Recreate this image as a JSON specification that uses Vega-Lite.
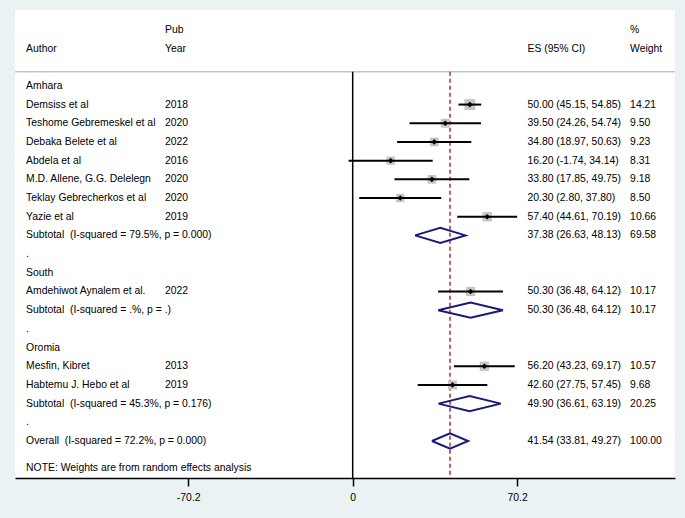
{
  "$schema": "https://vega.github.io/schema/vega-lite/v6.json",
  "width": 660,
  "height": 468,
  "autosize": {"type": "none"},
  "padding": {"left": 15, "top": 10, "right": 10, "bottom": 40},
  "background": "#eaf2f3",
  "config": {
    "view": {"fill": "white", "stroke": null},
    "font": "Liberation Sans",
    "text": {"font": "Liberation Sans", "fontSize": 10.4, "color": "black", "align": "left", "baseline": "middle"}
  },
  "datasets": {
    "table": [
      {"row": -2, "author": "", "year": "Pub", "estext": "", "wtext": "%", "kind": "header"},
      {"row": -1, "author": "Author", "year": "Year", "estext": "ES (95% CI)", "wtext": "Weight", "kind": "header"},
      {"row": 1, "author": "Amhara", "year": "", "estext": "", "wtext": "", "kind": "group"},
      {"row": 2, "author": "Demsiss et al", "year": "2018", "es": 50.00, "lo": 45.15, "hi": 54.85, "w": 14.21, "estext": "50.00 (45.15, 54.85)", "wtext": "14.21", "kind": "study"},
      {"row": 3, "author": "Teshome Gebremeskel et al", "year": "2020", "es": 39.50, "lo": 24.26, "hi": 54.74, "w": 9.50, "estext": "39.50 (24.26, 54.74)", "wtext": "9.50", "kind": "study"},
      {"row": 4, "author": "Debaka Belete et al", "year": "2022", "es": 34.80, "lo": 18.97, "hi": 50.63, "w": 9.23, "estext": "34.80 (18.97, 50.63)", "wtext": "9.23", "kind": "study"},
      {"row": 5, "author": "Abdela et al", "year": "2016", "es": 16.20, "lo": -1.74, "hi": 34.14, "w": 8.31, "estext": "16.20 (-1.74, 34.14)", "wtext": "8.31", "kind": "study"},
      {"row": 6, "author": "M.D. Allene, G.G. Delelegn", "year": "2020", "es": 33.80, "lo": 17.85, "hi": 49.75, "w": 9.18, "estext": "33.80 (17.85, 49.75)", "wtext": "9.18", "kind": "study"},
      {"row": 7, "author": "Teklay Gebrecherkos et al", "year": "2020", "es": 20.30, "lo": 2.80, "hi": 37.80, "w": 8.50, "estext": "20.30 (2.80, 37.80)", "wtext": "8.50", "kind": "study"},
      {"row": 8, "author": "Yazie et al", "year": "2019", "es": 57.40, "lo": 44.61, "hi": 70.19, "w": 10.66, "estext": "57.40 (44.61, 70.19)", "wtext": "10.66", "kind": "study"},
      {"row": 9, "author": "Subtotal\u00a0 (I-squared = 79.5%, p = 0.000)", "year": "", "es": 37.38, "lo": 26.63, "hi": 48.13, "w": 69.58, "estext": "37.38 (26.63, 48.13)", "wtext": "69.58", "kind": "pooled"},
      {"row": 10, "author": ".", "year": "", "estext": "", "wtext": "", "kind": "blank"},
      {"row": 11, "author": "South", "year": "", "estext": "", "wtext": "", "kind": "group"},
      {"row": 12, "author": "Amdehiwot Aynalem et al.", "year": "2022", "es": 50.30, "lo": 36.48, "hi": 64.12, "w": 10.17, "estext": "50.30 (36.48, 64.12)", "wtext": "10.17", "kind": "study"},
      {"row": 13, "author": "Subtotal\u00a0 (I-squared = .%, p = .)", "year": "", "es": 50.30, "lo": 36.48, "hi": 64.12, "w": 10.17, "estext": "50.30 (36.48, 64.12)", "wtext": "10.17", "kind": "pooled"},
      {"row": 14, "author": ".", "year": "", "estext": "", "wtext": "", "kind": "blank"},
      {"row": 15, "author": "Oromia", "year": "", "estext": "", "wtext": "", "kind": "group"},
      {"row": 16, "author": "Mesfin, Kibret", "year": "2013", "es": 56.20, "lo": 43.23, "hi": 69.17, "w": 10.57, "estext": "56.20 (43.23, 69.17)", "wtext": "10.57", "kind": "study"},
      {"row": 17, "author": "Habtemu J. Hebo et al", "year": "2019", "es": 42.60, "lo": 27.75, "hi": 57.45, "w": 9.68, "estext": "42.60 (27.75, 57.45)", "wtext": "9.68", "kind": "study"},
      {"row": 18, "author": "Subtotal\u00a0 (I-squared = 45.3%, p = 0.176)", "year": "", "es": 49.90, "lo": 36.61, "hi": 63.19, "w": 20.25, "estext": "49.90 (36.61, 63.19)", "wtext": "20.25", "kind": "pooled"},
      {"row": 19, "author": ".", "year": "", "estext": "", "wtext": "", "kind": "blank"},
      {"row": 20, "author": "Overall\u00a0 (I-squared = 72.2%, p = 0.000)", "year": "", "es": 41.54, "lo": 33.81, "hi": 49.27, "w": 100.00, "estext": "41.54 (33.81, 49.27)", "wtext": "100.00", "kind": "overall"},
      {"row": 21.45, "author": "NOTE: Weights are from random effects analysis", "year": "", "estext": "", "wtext": "", "kind": "note"}
    ],
    "dia": [
      {"grp": "Amhara", "ord": 0, "x": 26.63, "y": 9},
      {"grp": "Amhara", "ord": 1, "x": 37.38, "y": 8.59},
      {"grp": "Amhara", "ord": 2, "x": 48.13, "y": 9},
      {"grp": "Amhara", "ord": 3, "x": 37.38, "y": 9.41},
      {"grp": "Amhara", "ord": 4, "x": 26.63, "y": 9},
      {"grp": "South", "ord": 0, "x": 36.48, "y": 13},
      {"grp": "South", "ord": 1, "x": 50.30, "y": 12.59},
      {"grp": "South", "ord": 2, "x": 64.12, "y": 13},
      {"grp": "South", "ord": 3, "x": 50.30, "y": 13.41},
      {"grp": "South", "ord": 4, "x": 36.48, "y": 13},
      {"grp": "Oromia", "ord": 0, "x": 36.61, "y": 18},
      {"grp": "Oromia", "ord": 1, "x": 49.90, "y": 17.59},
      {"grp": "Oromia", "ord": 2, "x": 63.19, "y": 18},
      {"grp": "Oromia", "ord": 3, "x": 49.90, "y": 18.41},
      {"grp": "Oromia", "ord": 4, "x": 36.61, "y": 18},
      {"grp": "Overall", "ord": 0, "x": 33.81, "y": 20},
      {"grp": "Overall", "ord": 1, "x": 41.54, "y": 19.59},
      {"grp": "Overall", "ord": 2, "x": 49.27, "y": 20},
      {"grp": "Overall", "ord": 3, "x": 41.54, "y": 20.41},
      {"grp": "Overall", "ord": 4, "x": 33.81, "y": 20}
    ]
  },
  "layer": [
    {
      "data": {"values": [{}]},
      "mark": {"type": "rule", "color": "#c4c4c4", "strokeWidth": 1.5},
      "encoding": {
        "y": {"datum": 0.24, "type": "quantitative", "scale": {"domain": [-3.06, 21.98], "reverse": true, "nice": false, "zero": false}, "axis": null}
      }
    },
    {
      "data": {"values": [{}]},
      "mark": {"type": "rule", "color": "black", "strokeWidth": 1.5},
      "encoding": {
        "x": {"datum": 0, "type": "quantitative", "scale": {"domain": [-144.13, 137.56], "nice": false, "zero": false},
              "axis": {"values": [-70.2, 0, 70.2], "labelExpr": "datum.value == 0 ? '0' : (datum.value < 0 ? '-' : '') + format(abs(datum.value), '.1f')", "title": null, "grid": false, "domainColor": "black", "domainWidth": 1.5, "tickColor": "black", "tickWidth": 1.5, "tickSize": 8, "labelFontSize": 10.4, "labelFont": "Liberation Sans", "labelColor": "black", "labelPadding": 6, "labelFlush": false, "labelOverlap": false}},
        "y": {"datum": 0.24, "type": "quantitative", "scale": {"domain": [-3.06, 21.98], "reverse": true, "nice": false, "zero": false}, "axis": null},
        "y2": {"datum": 21.98}
      }
    },
    {
      "data": {"name": "table"},
      "transform": [{"filter": "datum.kind == 'overall'"}],
      "mark": {"type": "rule", "color": "#a3303c", "strokeWidth": 1.5, "strokeDash": [4, 3]},
      "encoding": {
        "x": {"field": "es", "type": "quantitative", "scale": {"domain": [-144.13, 137.56], "nice": false, "zero": false}, "title": null},
        "y": {"datum": 0.24, "type": "quantitative", "scale": {"domain": [-3.06, 21.98], "reverse": true, "nice": false, "zero": false}, "axis": null},
        "y2": {"datum": 21.98}
      }
    },
    {
      "data": {"name": "table"},
      "transform": [{"filter": "datum.kind == 'study'"}],
      "mark": {"type": "point", "shape": "square", "filled": true, "color": "#c6c6c6", "opacity": 1},
      "encoding": {
        "x": {"field": "es", "type": "quantitative", "scale": {"domain": [-144.13, 137.56], "nice": false, "zero": false}, "title": null},
        "y": {"field": "row", "type": "quantitative", "scale": {"domain": [-3.06, 21.98], "reverse": true, "nice": false, "zero": false}, "axis": null},
        "size": {"field": "w", "type": "quantitative", "scale": {"type": "linear", "domain": [0, 14.21], "range": [0, 118], "zero": true}, "legend": null}
      }
    },
    {
      "data": {"name": "table"},
      "transform": [{"filter": "datum.kind == 'study'"}],
      "mark": {"type": "rule", "color": "black", "strokeWidth": 2},
      "encoding": {
        "x": {"field": "lo", "type": "quantitative", "scale": {"domain": [-144.13, 137.56], "nice": false, "zero": false}, "title": null},
        "x2": {"field": "hi"},
        "y": {"field": "row", "type": "quantitative", "scale": {"domain": [-3.06, 21.98], "reverse": true, "nice": false, "zero": false}, "axis": null}
      }
    },
    {
      "data": {"name": "table"},
      "transform": [{"filter": "datum.kind == 'study'"}],
      "mark": {"type": "point", "shape": "diamond", "filled": true, "color": "black", "size": 32, "opacity": 1},
      "encoding": {
        "x": {"field": "es", "type": "quantitative", "scale": {"domain": [-144.13, 137.56], "nice": false, "zero": false}, "title": null},
        "y": {"field": "row", "type": "quantitative", "scale": {"domain": [-3.06, 21.98], "reverse": true, "nice": false, "zero": false}, "axis": null}
      }
    },
    {
      "data": {"name": "dia"},
      "mark": {"type": "line", "color": "#1a1a78", "strokeWidth": 2, "strokeJoin": "miter"},
      "encoding": {
        "x": {"field": "x", "type": "quantitative", "scale": {"domain": [-144.13, 137.56], "nice": false, "zero": false}, "title": null},
        "y": {"field": "y", "type": "quantitative", "scale": {"domain": [-3.06, 21.98], "reverse": true, "nice": false, "zero": false}, "axis": null},
        "detail": {"field": "grp"},
        "order": {"field": "ord", "type": "quantitative"}
      }
    },
    {
      "data": {"name": "table"},
      "mark": {"type": "text"},
      "encoding": {
        "x": {"datum": -139.4, "type": "quantitative", "scale": {"domain": [-144.13, 137.56], "nice": false, "zero": false}, "title": null},
        "y": {"field": "row", "type": "quantitative", "scale": {"domain": [-3.06, 21.98], "reverse": true, "nice": false, "zero": false}, "axis": null},
        "text": {"field": "author"}
      }
    },
    {
      "data": {"name": "table"},
      "mark": {"type": "text"},
      "encoding": {
        "x": {"datum": -80.1, "type": "quantitative", "scale": {"domain": [-144.13, 137.56], "nice": false, "zero": false}, "title": null},
        "y": {"field": "row", "type": "quantitative", "scale": {"domain": [-3.06, 21.98], "reverse": true, "nice": false, "zero": false}, "axis": null},
        "text": {"field": "year"}
      }
    },
    {
      "data": {"name": "table"},
      "mark": {"type": "text"},
      "encoding": {
        "x": {"datum": 74.6, "type": "quantitative", "scale": {"domain": [-144.13, 137.56], "nice": false, "zero": false}, "title": null},
        "y": {"field": "row", "type": "quantitative", "scale": {"domain": [-3.06, 21.98], "reverse": true, "nice": false, "zero": false}, "axis": null},
        "text": {"field": "estext"}
      }
    },
    {
      "data": {"name": "table"},
      "mark": {"type": "text"},
      "encoding": {
        "x": {"datum": 118.4, "type": "quantitative", "scale": {"domain": [-144.13, 137.56], "nice": false, "zero": false}, "title": null},
        "y": {"field": "row", "type": "quantitative", "scale": {"domain": [-3.06, 21.98], "reverse": true, "nice": false, "zero": false}, "axis": null},
        "text": {"field": "wtext"}
      }
    }
  ]
}
